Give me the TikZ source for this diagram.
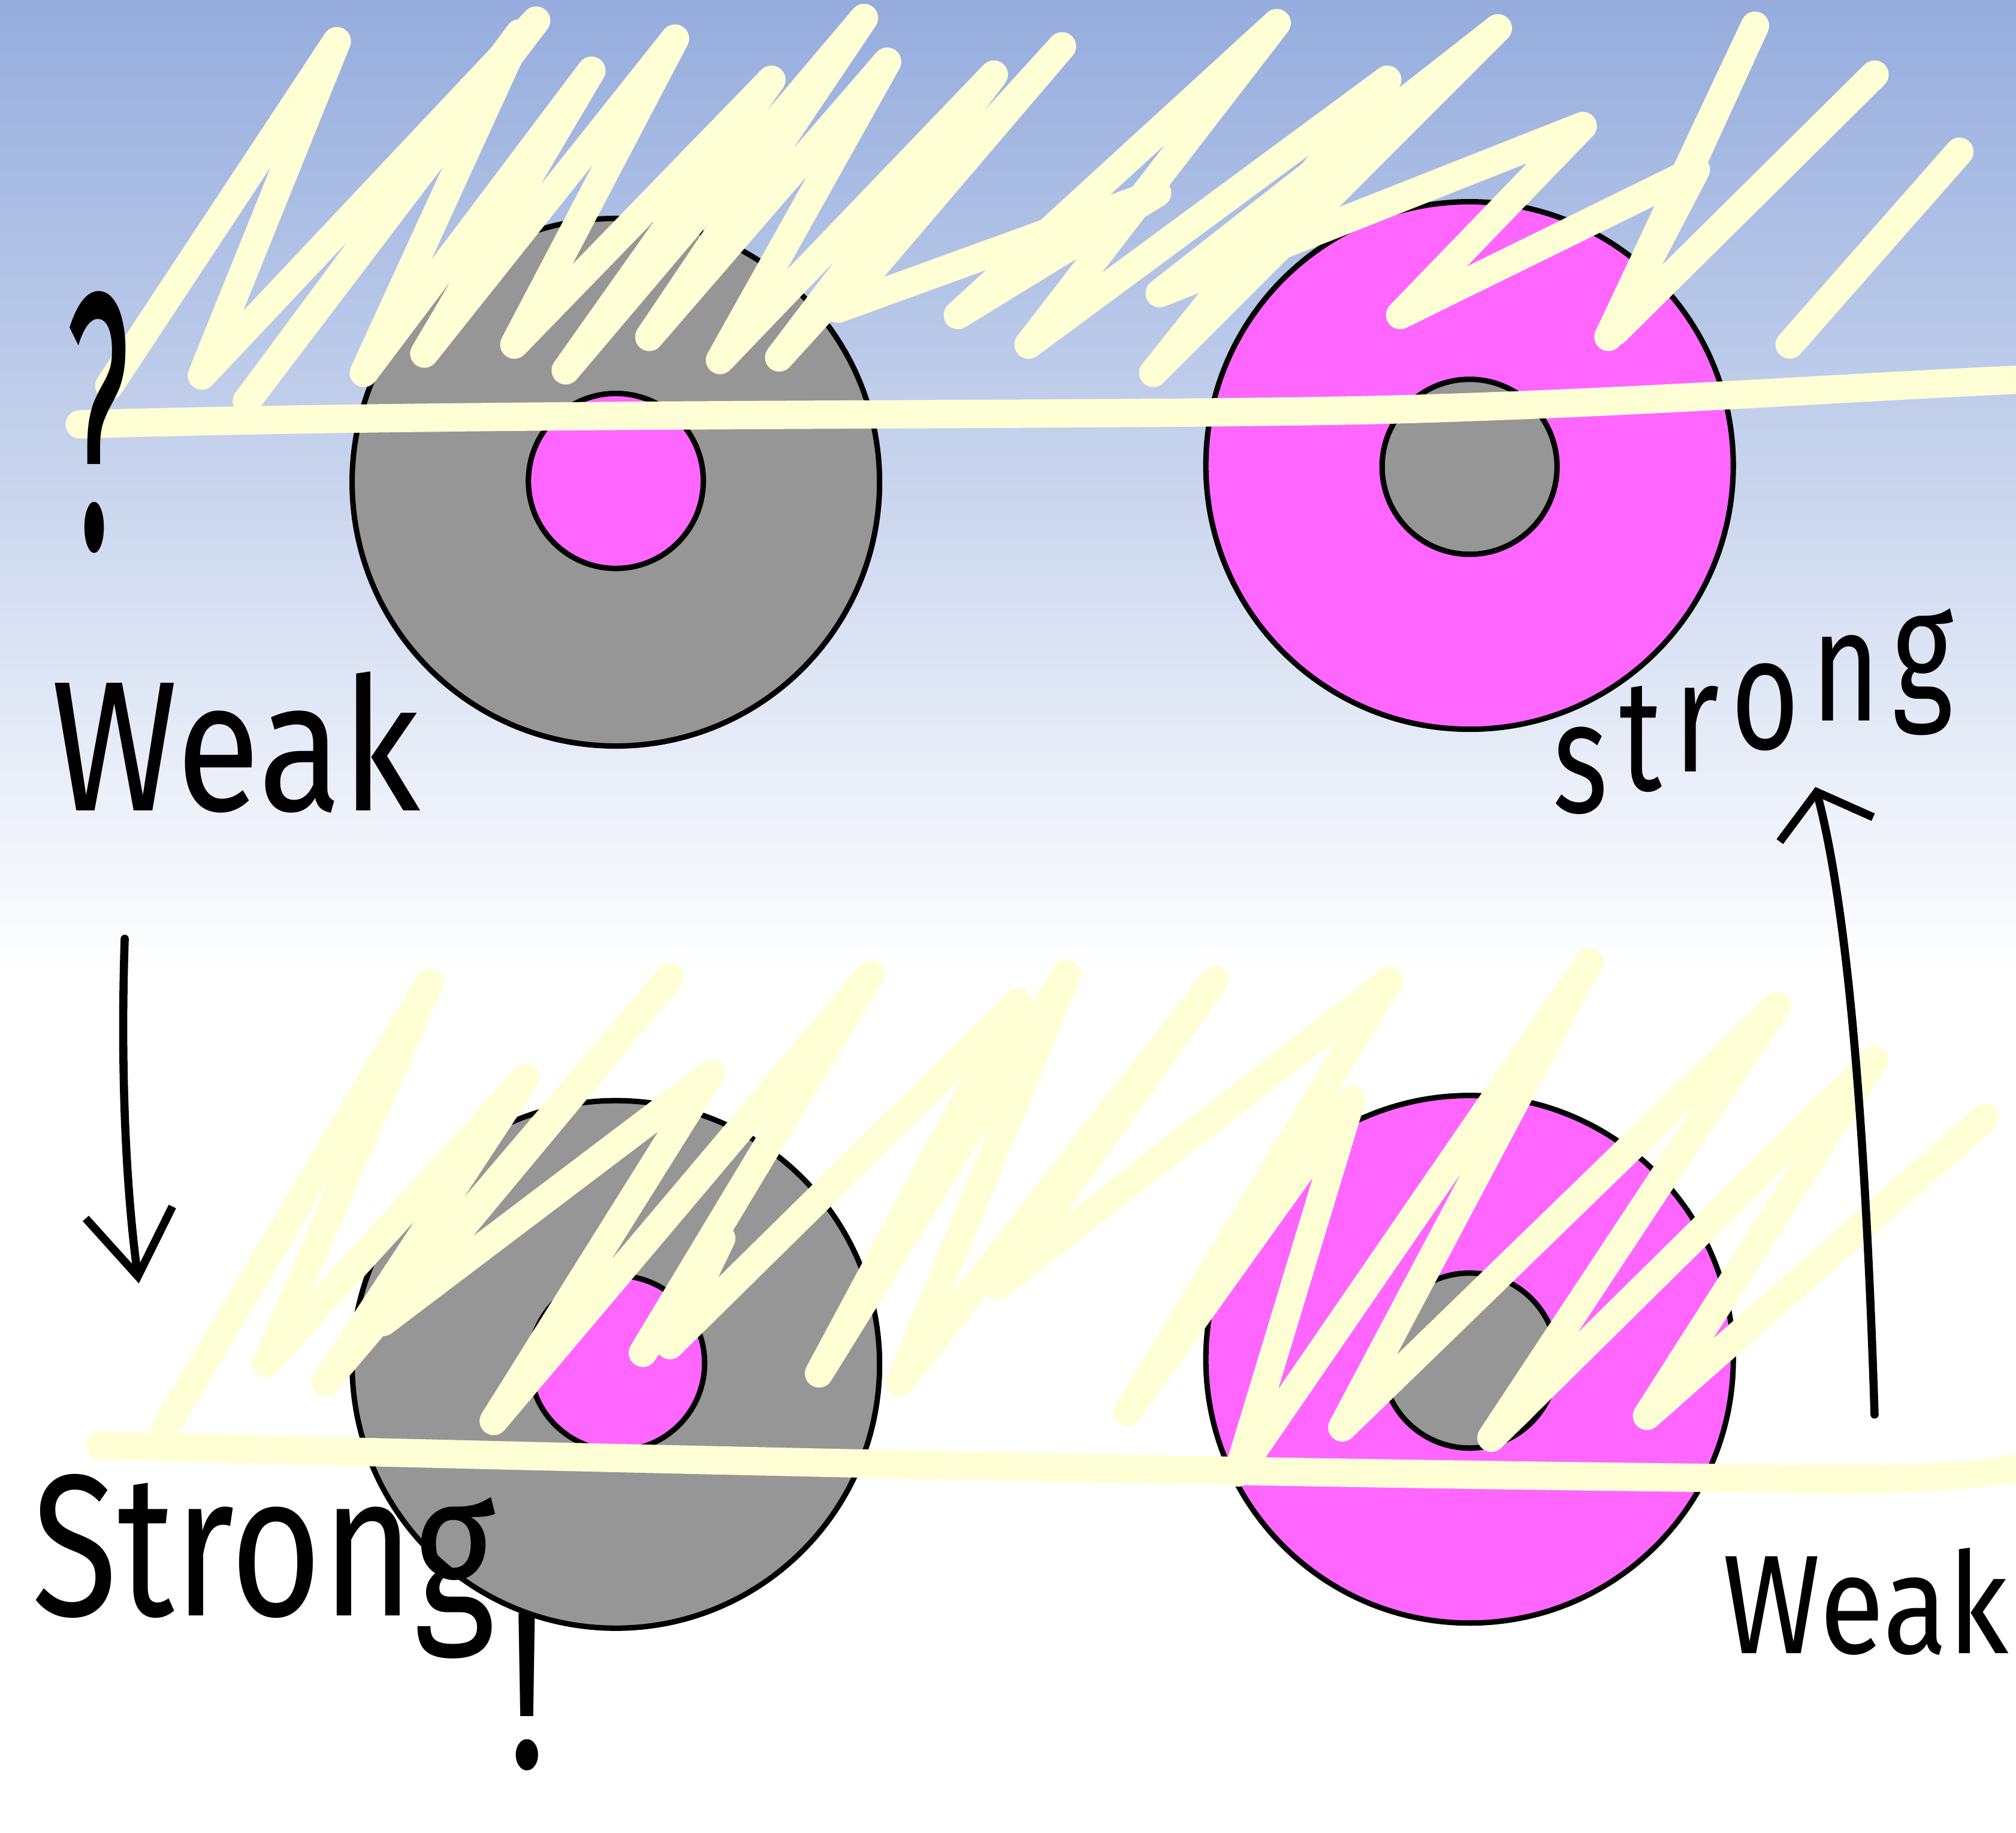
\documentclass[tikz,border=0pt]{standalone}
\usepackage{fontspec}
\setmainfont{Fira Sans}
\usetikzlibrary{arrows.meta}
\definecolor{bgtop}{RGB}{149,172,221}
\definecolor{donutgray}{RGB}{150,150,150}
\definecolor{donutpink}{RGB}{255,102,255}
\definecolor{hiyellow}{RGB}{255,255,214}
\tikzset{
 outerring/.style={circle, draw=black, line width=1.2pt, minimum size=4.1cm, inner sep=0pt},
 innerring/.style={circle, draw=black, line width=1.2pt, minimum size=1.36cm, inner sep=0pt},
 highlight/.style={draw=hiyellow, line width=0.22cm, line cap=round, line join=round},
 hand/.style={inner sep=0pt, outer sep=0pt, text=black},
 pen/.style={draw=black, line width=1.8pt, line cap=round, line join=round},
}
\newcommand{\stair}[2]{\raisebox{#1em}{#2}\hspace{0.1em}}
\begin{document}
\begin{tikzpicture}[x=0.01cm,y=-0.01cm]
\useasboundingbox (0,0) rectangle (1568,1425);
\clip (0,0) rectangle (1568,1425);
% background
\shade[top color=bgtop, bottom color=white] (0,0) rectangle (1568,760);
\fill[white] (0,759) rectangle (1568,1425);
% donuts
\node[outerring, fill=donutgray] (tlout) at (479,375) {};
\node[innerring, fill=donutpink] (tlin) at (479,374) {};
\node[outerring, fill=donutpink] (trout) at (1143,362) {};
\node[innerring, fill=donutgray] (trin) at (1143,363) {};
\node[outerring, fill=donutgray] (blout) at (479,1061) {};
\node[innerring, fill=donutpink] (blin) at (480,1060) {};
\node[outerring, fill=donutpink] (brout) at (1143,1057) {};
\node[innerring, fill=donutgray] (brin) at (1143,1058) {};
% top highlighter scribble
\draw[highlight] (85,300) -- (262,32) -- (157,292) -- (417,16) -- (192,312) -- (404,26) -- (283,290) -- (460,55) -- (330,275) -- (525,30) -- (400,268) -- (600,62) -- (440,288) -- (672,14) -- (505,262) -- (690,48) -- (560,280) -- (773,58) -- (606,278) -- (826,36) -- (652,240) -- (900,150) -- (745,245) -- (993,18) -- (800,268) -- (1079,62) -- (897,290) -- (1165,22) -- (902,228) -- (1231,98) -- (1089,245) -- (1319,132) -- (1251,262) -- (1365,20) -- (1256,258) -- (1458,58);
\draw[highlight] (1392,268) -- (1524,118);
\draw[highlight] (62,330) .. controls (400,320) and (900,324) .. (1100,318) .. controls (1300,312) and (1450,300) .. (1600,294);
% bottom highlighter scribble
\draw[highlight] (129,1110) -- (334,764) -- (207,1060) -- (409,838) -- (253,1075) -- (521,760) -- (298,1028) -- (553,835) -- (384,1105) -- (677,758) -- (500,1052) -- (561,963) -- (521,1046) -- (792,779) -- (637,1068) -- (830,757) -- (700,1075) -- (945,762) -- (776,1000) -- (1080,763) -- (877,1098) -- (1051,855) -- (963,1145) -- (1236,748) -- (1044,1110) -- (1382,782) -- (1160,1118) -- (1458,824) -- (1281,1101) -- (1544,869);
\draw[highlight] (78,1124) .. controls (400,1132) and (900,1145) .. (1400,1150) .. controls (1500,1152) and (1550,1145) .. (1600,1138);
% handwriting
\node[hand, anchor=south] (qmark) at (76,430) {\resizebox{0.5cm}{2.0cm}{?}};
\node[hand, anchor=south west] (weak1) at (40,632) {\resizebox{2.87cm}{1.08cm}{Weak}};
\node[hand, anchor=base west] (strong1) at (1208,632) {\scalebox{1}[1.35]{\fontsize{26pt}{26pt}\selectfont \stair{0}{s}\stair{0.14}{t}\stair{0.26}{r}\stair{0.40}{o}\stair{0.58}{n}\raisebox{0.70em}{g}}};
\node[hand, anchor=south west] (strong2) at (25,1290) {\resizebox{3.6cm}{1.1cm}{Strong}};
\node[hand, anchor=base] (bang) at (410,1375) {\resizebox{0.3cm}{1.2cm}{!}};
\node[hand, anchor=south west] (weak2) at (1340,1287) {\resizebox{2.22cm}{0.82cm}{Weak}};
% arrows
\coordinate (a1s) at (97,730);
\coordinate (a1e) at (108,998);
\draw[pen, -{Straight Barb[length=0.5cm, width=0.68cm]}] (a1s) .. controls (93,850) and (100,940) .. (a1e);
\coordinate (a2s) at (1458,1100);
\coordinate (a2e) at (1412,612);
\draw[pen, -{Straight Barb[length=0.3cm, width=0.75cm]}] (a2s) .. controls (1450,850) and (1435,700) .. (a2e);
\end{tikzpicture}
\end{document}
